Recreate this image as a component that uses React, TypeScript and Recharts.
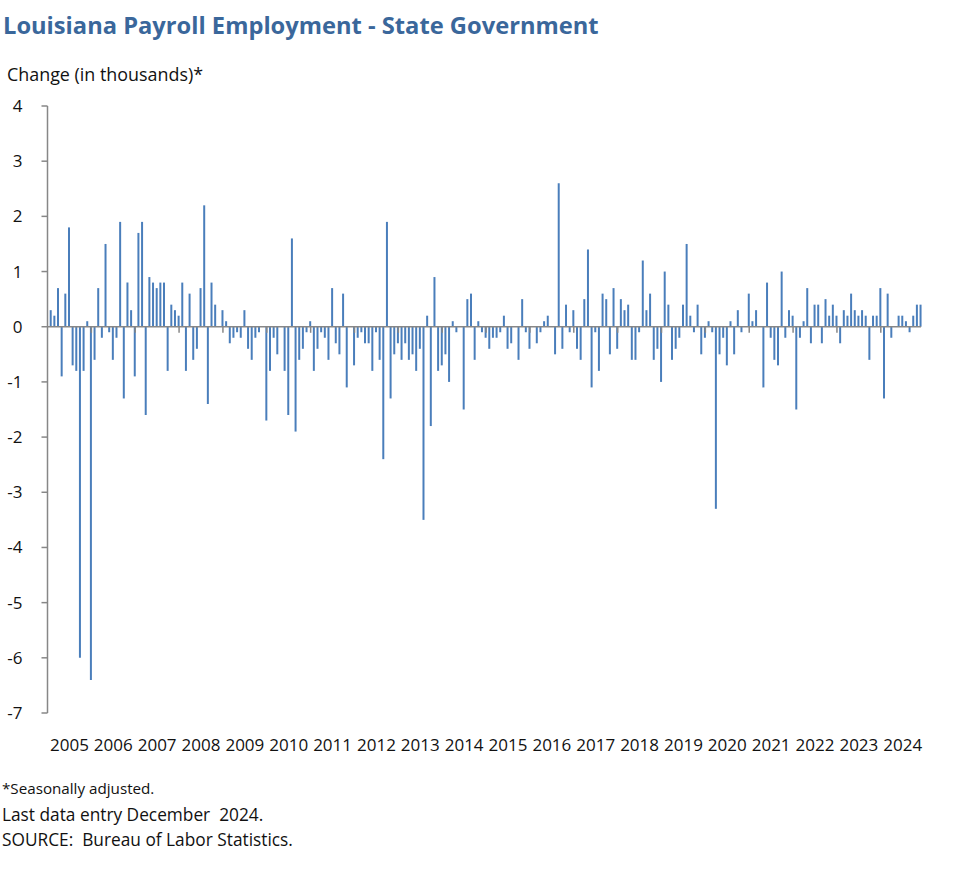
import React from 'react';
import { BarChart, Bar, XAxis, YAxis, ReferenceLine, Rectangle } from 'recharts';

// Monthly change, Feb 2005 .. Dec 2024 (thousands, seasonally adjusted)
const changes: number[] = [
  0.3, 0.2, 0.7, -0.9, 0.6, 1.8, -0.7, -0.8, -6.0, -0.8, 0.1, -6.4,
  -0.6, 0.7, -0.2, 1.5, -0.1, -0.6, -0.2, 1.9, -1.3, 0.8, 0.3, -0.9,
  1.7, 1.9, -1.6, 0.9, 0.8, 0.7, 0.8, 0.8, -0.8, 0.4, 0.3, 0.2,
  0.8, -0.8, 0.6, -0.6, -0.4, 0.7, 2.2, -1.4, 0.8, 0.4, 0, 0.3,
  0.1, -0.3, -0.2, -0.1, -0.2, 0.3, -0.4, -0.6, -0.2, -0.1, 0, -1.7,
  -0.8, -0.2, -0.5, 0, -0.8, -1.6, 1.6, -1.9, -0.6, -0.4, -0.1, 0.1,
  -0.8, -0.4, -0.1, -0.2, -0.6, 0.7, -0.3, -0.5, 0.6, -1.1, 0, -0.7,
  -0.2, -0.1, -0.3, -0.3, -0.8, -0.1, -0.6, -2.4, 1.9, -1.3, -0.5, -0.3,
  -0.6, -0.3, -0.6, -0.5, -0.8, -0.4, -3.5, 0.2, -1.8, 0.9, -0.8, -0.7,
  -0.5, -1.0, 0.1, -0.1, 0, -1.5, 0.5, 0.6, -0.6, 0.1, -0.1, -0.2,
  -0.4, -0.2, -0.2, -0.1, 0.2, -0.4, -0.3, 0, -0.6, 0.5, -0.1, -0.4,
  0, -0.3, -0.1, 0.1, 0.2, 0, -0.5, 2.6, -0.4, 0.4, -0.1, 0.3,
  -0.4, -0.6, 0.5, 1.4, -1.1, -0.1, -0.8, 0.6, 0.5, -0.5, 0.7, -0.4,
  0.5, 0.3, 0.4, -0.6, -0.6, -0.1, 1.2, 0.3, 0.6, -0.6, -0.4, -1.0,
  1.0, 0.4, -0.6, -0.4, -0.2, 0.4, 1.5, 0.2, -0.1, 0.4, -0.5, -0.2,
  0.1, -0.1, -3.3, -0.5, -0.2, -0.7, 0.1, -0.5, 0.3, -0.1, 0, 0.6,
  0.1, 0.3, 0, -1.1, 0.8, -0.2, -0.6, -0.7, 1.0, -0.2, 0.3, 0.2,
  -1.5, -0.2, 0.1, 0.7, -0.3, 0.4, 0.4, -0.3, 0.5, 0.2, 0.4, 0.2,
  -0.3, 0.3, 0.2, 0.6, 0.3, 0.2, 0.3, 0.2, -0.6, 0.2, 0.2, 0.7,
  -1.3, 0.6, -0.2, 0, 0.2, 0.2, 0.1, -0.1, 0.2, 0.4, 0.4,
];

const yearLabels: string[] = [
  '2005', '2006', '2007', '2008', '2009', '2010', '2011', '2012', '2013', '2014',
  '2015', '2016', '2017', '2018', '2019', '2020', '2021', '2022', '2023', '2024',
];

const yTicks: number[] = [-7, -6, -5, -4, -3, -2, -1, 0, 1, 2, 3, 4];

// categories: month periods starting Feb 2005
const categories: string[] = changes.map((_, i) => {
  const m = (i + 1) % 12;
  const y = 2005 + Math.floor((i + 1) / 12);
  return `${y}-${String(m + 1).padStart(2, '0')}`;
});

const data = categories.map((period, i) => ({ period, value: changes[i] }));
const boundaryIdx = categories.map((_, i) => i).filter((i) => i > 0 && i % 12 === 0);

const W = 976;
const H = 877;
const PLOT_LEFT = 47.5;
const PLOT_RIGHT = 921;
const PLOT_TOP = 106;
const PLOT_BOTTOM = 713;
const XAXIS_H = 60;
const BAND = (PLOT_RIGHT - PLOT_LEFT) / categories.length;
const FONT = '"Open Sans", sans-serif';
const AXIS_COLOR = '#878787';
const TEXT_COLOR = '#111111';
const BAR_COLOR = '#4a7ebb';
const TICK_FONT = 17;

const YearTick = (props: any) => {
  const { x, y, payload } = props;
  const idx = categories.indexOf(payload.value);
  if (idx < 0 || idx % 12 !== 0) return <g />;
  return (
    <text
      x={x + 5.5 * BAND}
      y={y + 38}
      textAnchor="middle"
      fontSize={TICK_FONT}
      fontFamily={FONT}
      fill={TEXT_COLOR}
    >
      {yearLabels[idx / 12]}
    </text>
  );
};

const ShiftedBar = (props: any) => (
  <Rectangle {...props} x={props.x + 1.2} />
);

export default function App() {
  return (
    <div style={{ position: 'absolute', left: 0, top: 0, width: W, height: H, background: '#fff' }}>
      <svg width={W} height={H} style={{ position: 'absolute', left: 0, top: 0 }}>
        <text x={3} y={34} fontFamily={FONT} fontWeight={700} fontSize={23.7} fill="#3a679b">
          Louisiana Payroll Employment - State Government
        </text>
        <text x={7} y={81} fontFamily={FONT} fontSize={17.9} fill={TEXT_COLOR}>
          Change (in thousands)*
        </text>
        <text x={2} y={794} fontFamily={FONT} fontSize={15.2} fill={TEXT_COLOR}>
          *Seasonally adjusted.
        </text>
        <text x={2} y={821} fontFamily={FONT} fontSize={17.3} fill={TEXT_COLOR} xmlSpace="preserve">
          Last data entry December  2024.
        </text>
        <text x={2} y={846} fontFamily={FONT} fontSize={17.3} fill={TEXT_COLOR} xmlSpace="preserve">
          SOURCE:  Bureau of Labor Statistics.
        </text>
      </svg>
      <div style={{ position: 'absolute', left: 0, top: 0 }}>
        <BarChart
          width={W}
          height={H}
          data={data}
          margin={{ top: PLOT_TOP, right: W - PLOT_RIGHT, left: 0, bottom: H - PLOT_BOTTOM - XAXIS_H }}
        >
          <XAxis
            dataKey="period"
            interval={0}
            height={XAXIS_H}
            axisLine={false}
            tickLine={false}
            tickSize={0}
            tickMargin={0}
            tick={<YearTick />}
          />
          <YAxis
            width={PLOT_LEFT}
            domain={[-7, 4]}
            ticks={yTicks}
            interval={0}
            allowDataOverflow
            axisLine={{ stroke: AXIS_COLOR, strokeWidth: 1.5 }}
            tickLine={{ stroke: AXIS_COLOR, strokeWidth: 1.5 }}
            tickSize={6}
            tickMargin={19}
            tick={{ fontSize: TICK_FONT, fontFamily: FONT, fill: TEXT_COLOR }}
          />
          <Bar dataKey="value" fill={BAR_COLOR} barSize={2} shape={<ShiftedBar />} isAnimationActive={false} />
          <ReferenceLine y={0} stroke={AXIS_COLOR} strokeWidth={1.5} />
          {boundaryIdx.map((i) => (
            <ReferenceLine
              key={i}
              position="start"
              segment={[
                { x: categories[i], y: 0 },
                { x: categories[i], y: -0.11 },
              ]}
              stroke={AXIS_COLOR}
              strokeWidth={1.5}
            />
          ))}
        </BarChart>
      </div>
    </div>
  );
}
